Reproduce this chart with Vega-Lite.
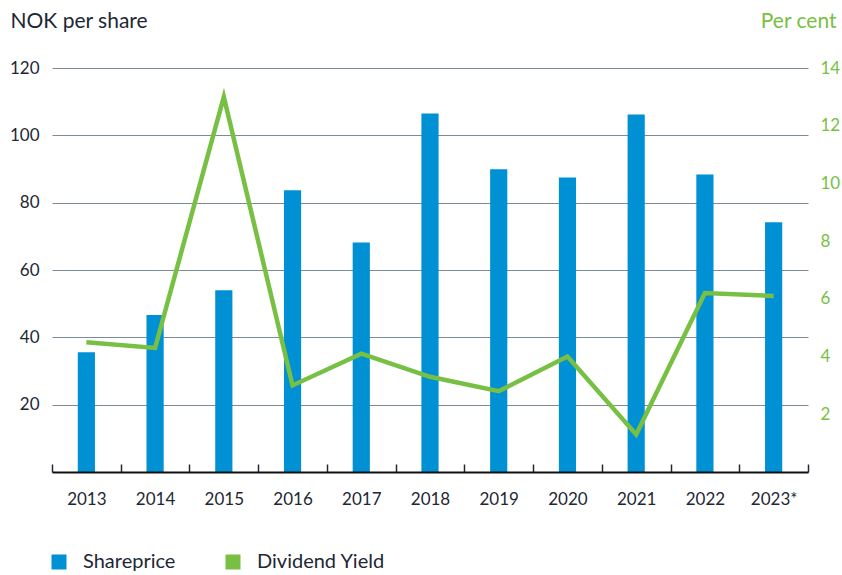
{
  "$schema": "https://vega.github.io/schema/vega-lite/v6.json",
  "width": 756,
  "height": 404,
  "autosize": "none",
  "padding": {"left": 52, "top": 68, "right": 34, "bottom": 103},
  "background": "white",
  "config": {
    "view": {"stroke": null},
    "font": "Lato",
    "axis": {"labelFont": "Lato", "titleFont": "Lato"},
    "legend": {"labelFont": "Lato"}
  },
  "data": {
    "values": [
      {"year": "2013", "price": 35.6, "yield": 4.5},
      {"year": "2014", "price": 46.6, "yield": 4.3},
      {"year": "2015", "price": 54.0, "yield": 13.0},
      {"year": "2016", "price": 83.7, "yield": 3.0},
      {"year": "2017", "price": 68.2, "yield": 4.1},
      {"year": "2018", "price": 106.5, "yield": 3.3},
      {"year": "2019", "price": 89.9, "yield": 2.8},
      {"year": "2020", "price": 87.5, "yield": 4.0},
      {"year": "2021", "price": 106.2, "yield": 1.3},
      {"year": "2022", "price": 88.4, "yield": 6.2},
      {"year": "2023*", "price": 74.2, "yield": 6.1}
    ]
  },
  "encoding": {
    "x": {
      "field": "year",
      "type": "nominal",
      "sort": null,
      "scale": {"paddingInner": 0, "paddingOuter": 0},
      "axis": {
        "title": null,
        "labelAngle": 0,
        "labelFontSize": 17,
        "labelColor": "#1e2733",
        "labelPadding": 27,
        "domainColor": "#111111",
        "domainWidth": 2,
        "tickColor": "#1e2a38",
        "tickWidth": 1.5,
        "tickSize": -8,
        "tickBand": "extent",
        "grid": false,
        "zindex": 2
      }
    }
  },
  "layer": [
    {
      "mark": {"type": "bar", "width": {"band": 0.25}, "color": "#0090d4"},
      "encoding": {
        "y": {
          "field": "price",
          "type": "quantitative",
          "scale": {"domain": [0, 120]},
          "axis": {
            "values": [20, 40, 60, 80, 100, 120],
            "title": "NOK per share",
            "titleAngle": 0,
            "titleX": -42,
            "titleY": -41,
            "titleAlign": "left",
            "titleBaseline": "alphabetic",
            "titleFontSize": 21,
            "titleFontWeight": "normal",
            "titleColor": "#1e2733",
            "labelFontSize": 17,
            "labelColor": "#1e2733",
            "labelPadding": 13,
            "ticks": false,
            "domain": false,
            "grid": true,
            "gridColor": "#7d8a98",
            "gridWidth": 1
          }
        },
        "color": {
          "datum": "Shareprice",
          "type": "nominal",
          "scale": {"domain": ["Shareprice", "Dividend Yield"], "range": ["#0090d4", "#78c043"]},
          "legend": {
            "title": null,
            "orient": "none",
            "direction": "horizontal",
            "legendX": -3,
            "legendY": 484,
            "padding": 0,
            "symbolType": "square",
            "symbolSize": 225,
            "symbolStrokeWidth": 0,
            "labelFontSize": 20,
            "labelColor": "#1e2733",
            "labelOffset": 14,
            "columnPadding": 47,
            "encode": {
              "symbols": {"update": {"fill": {"scale": "color", "field": "value"}, "fillOpacity": {"value": 1}, "strokeWidth": {"value": 0}}}
            }
          }
        }
      }
    },
    {
      "mark": {"type": "line", "strokeWidth": 4.5, "color": "#78c043", "strokeJoin": "miter", "strokeMiterLimit": 10},
      "encoding": {
        "y": {
          "field": "yield",
          "type": "quantitative",
          "scale": {"domain": [0, 14]},
          "axis": {
            "orient": "right",
            "values": [2, 4, 6, 8, 10, 12, 14],
            "title": "Per cent",
            "titleAngle": 0,
            "titleX": 28,
            "titleY": -41,
            "titleAlign": "right",
            "titleBaseline": "alphabetic",
            "titleFontSize": 21,
            "titleFontWeight": "normal",
            "titleColor": "#78c043",
            "labelFontSize": 17,
            "labelColor": "#78c043",
            "labelPadding": 12,
            "ticks": false,
            "domain": false,
            "grid": false
          }
        },
        "color": {"datum": "Dividend Yield", "type": "nominal"}
      }
    }
  ],
  "resolve": {"scale": {"y": "independent"}}
}
